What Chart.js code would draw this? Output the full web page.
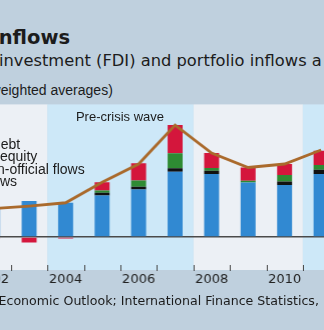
<!DOCTYPE html>
<html>
<head>
<meta charset="utf-8">
<script src="https://cdn.jsdelivr.net/npm/chart.js@4.4.1/dist/chart.umd.min.js"></script>
<style>
    html, body {
        margin: 0;
        padding: 0;
    }
    body {
        position: relative;
        width: 324px;
        height: 330px;
        overflow: hidden;
        background: #bfd0de;
        color: #1c1c1c;
    }
    .txt {
        position: absolute;
        white-space: nowrap;
        line-height: 1;
    }
    .title { font: bold 19.5px "DejaVu Sans", sans-serif; left: -8px; top: 26px; }
    .sub { font: 16.3px "DejaVu Sans", sans-serif; left: -1px; top: 51.3px; }
    .sub2 { font: 14px "Liberation Sans", sans-serif; left: -9.4px; top: 81.5px; }
    .legend { font: 14px "Liberation Sans", sans-serif; }
    .wave { font: 13px "Liberation Sans", sans-serif; left: 46.7px; width: 146.6px; text-align: center; top: 109px; }
    .source { font: 12.6px "DejaVu Sans", sans-serif; left: -1.5px; top: 292.5px; }
    #wrap {
        position: absolute;
        left: -26.67px;
        top: 103px;
        width: 366.67px;
        height: 197px;
    }
</style>
</head>
<body>
<div class="txt title">inflows</div>
<div class="txt sub">investment (FDI) and portfolio inflows a</div>
<div class="txt sub2">weighted averages)</div>

<div id="wrap"><canvas id="flowsChart"></canvas></div>

<div class="txt legend" style="left:-7px; top:135.5px;">debt</div>
<div class="txt legend" style="left:0px; top:148.2px;">equity</div>
<div class="txt legend" style="left:-18.6px; top:160.6px;">non-official flows</div>
<div class="txt legend" style="left:-14.8px; top:173.2px;">flows</div>
<div class="txt wave">Pre-crisis wave</div>

<div class="txt source">Economic Outlook; International Finance Statistics,</div>

<script>
/* =========================================================
   DATA
   ========================================================= */

const years = ["2002", "2003", "2004", "2005", "2006", "2007", "2008", "2009", "2010", "2011"];

const fdiFlows        = [1.80, 2.16, 2.06, 2.50, 2.86, 3.93, 3.80, 3.29, 3.14, 3.80];
const nonOfficial     = [0.00, 0.00, 0.00, 0.16, 0.16, 0.22, 0.20, 0.00, 0.20, 0.26];
const portfolioEquity = [0.00, 0.00, 0.00, 0.14, 0.38, 0.90, 0.16, 0.10, 0.40, 0.28];
const portfolioDebt   = [-0.10, -0.34, -0.10, 0.50, 1.04, 1.70, 0.90, 0.80, 0.66, 0.86];
const totalFlows      = [1.70, 1.86, 2.06, 3.30, 4.40, 6.75, 5.06, 4.19, 4.40, 5.25];

// years that get a label under the axis
const labelledYears = ["2002", "2004", "2006", "2008", "2010"];

// shaded periods (first year, last year)
const calmPeriods = [["2002", "2003"], ["2008", "2010"]];
const wavePeriods = [["2004", "2007"], ["2011", "2011"]];


/* =========================================================
   PLUGINS
   ========================================================= */

function categoryHalfWidth(x) {
    return (x.getPixelForValue(1) - x.getPixelForValue(0)) / 2;
}

const periodBands = {
    id: "periodBands",
    beforeDraw(chart) {
        const { ctx, chartArea: area, scales: { x } } = chart;
        const half = categoryHalfWidth(x);

        function fillPeriods(periods, color) {
            ctx.fillStyle = color;
            periods.forEach(([from, to]) => {
                const left = x.getPixelForValue(years.indexOf(from)) - half;
                const right = x.getPixelForValue(years.indexOf(to)) + half;
                ctx.fillRect(left, area.top, right - left, area.bottom - area.top);
            });
        }

        ctx.save();
        fillPeriods(calmPeriods, "#ecf0f5");
        fillPeriods(wavePeriods, "#cde8f8");
        ctx.restore();
    }
};

const innerTicks = {
    id: "innerTicks",
    afterDraw(chart) {
        const { ctx, chartArea: area, scales: { x } } = chart;
        const half = categoryHalfWidth(x);

        ctx.save();
        ctx.strokeStyle = "#444";
        ctx.lineWidth = 1;
        for (let i = 0; i <= years.length; i++) {
            const px = Math.round(x.getPixelForValue(i) - half) + 0.5;
            ctx.beginPath();
            ctx.moveTo(px, area.bottom - 5);
            ctx.lineTo(px, area.bottom + 1);
            ctx.stroke();
        }
        ctx.restore();
    }
};


/* =========================================================
   CHART
   ========================================================= */

const barBase = {
    type: "bar",
    stack: "flows",
    order: 1,
    barPercentage: 0.41,
    categoryPercentage: 1,
    borderWidth: 0
};

new Chart(document.getElementById("flowsChart").getContext("2d"), {
    data: {
        labels: years,
        datasets: [
            {
                type: "line",
                label: "Total",
                data: totalFlows,
                stack: "total",
                order: 0,
                borderColor: "#aa6a2c",
                borderWidth: 2.8,
                pointRadius: 0,
                tension: 0,
                fill: false
            },
            { ...barBase, label: "FDI flows", data: fdiFlows, backgroundColor: "#3189d2" },
            { ...barBase, label: "Non-official flows", data: nonOfficial, backgroundColor: "#111111" },
            { ...barBase, label: "Portfolio equity", data: portfolioEquity, backgroundColor: "#2e8b33" },
            { ...barBase, label: "Portfolio debt", data: portfolioDebt, backgroundColor: "#d4163c" }
        ]
    },
    options: {
        responsive: true,
        maintainAspectRatio: false,
        animation: false,
        layout: { padding: 0 },
        plugins: {
            legend: { display: false },
            tooltip: { enabled: false }
        },
        scales: {
            x: {
                stacked: true,
                offset: true,
                grid: { display: false, drawTicks: false },
                border: { display: false },
                ticks: {
                    padding: 2,
                    maxRotation: 0,
                    autoSkip: false,
                    color: "#222",
                    font: { family: "DejaVu Sans", size: 13 },
                    callback(value, index) {
                        return labelledYears.includes(years[index]) ? years[index] : "";
                    }
                },
                afterFit(scale) {
                    scale.height = 30;
                }
            },
            y: {
                stacked: true,
                min: -2,
                max: 8,
                ticks: { display: false, stepSize: 1 },
                border: { display: false },
                grid: {
                    drawTicks: false,
                    lineWidth: 1.5,
                    color(context) {
                        return context.tick && context.tick.value === 0 ? "#4a4a4a" : "transparent";
                    }
                },
                afterFit(scale) {
                    scale.width = 0;
                }
            }
        }
    },
    plugins: [periodBands, innerTicks]
});
</script>
</body>
</html>
